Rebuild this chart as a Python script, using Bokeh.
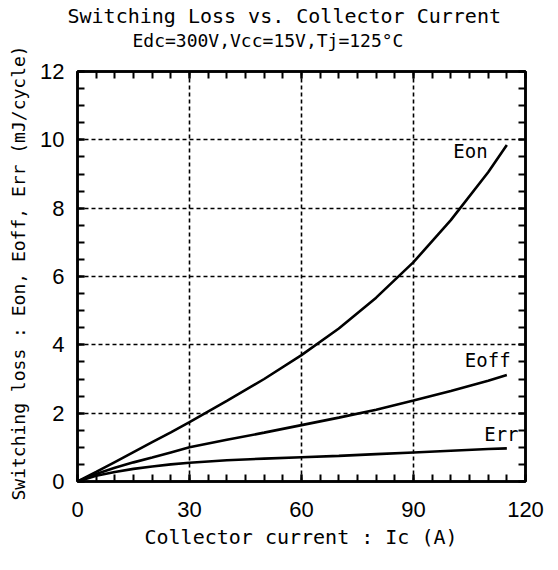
from bokeh.plotting import figure
from bokeh.models import (Range1d, LinearAxis, SingleIntervalTicker, Title,
                          CustomJSTickFormatter, ColumnDataSource)
from bokeh.embed import file_html
from bokeh.resources import INLINE
from bokeh.core.properties import value

# ---- data ----
current = [0, 5, 10, 15, 20, 25, 30, 40, 50, 60, 70, 80, 90, 100, 110, 115]
eon = [0, 0.28, 0.57, 0.86, 1.15, 1.44, 1.74, 2.36, 3.0, 3.7, 4.48, 5.38, 6.42, 7.65, 9.05, 9.85]
eoff = [0, 0.22, 0.40, 0.56, 0.70, 0.85, 1.0, 1.22, 1.43, 1.65, 1.87, 2.10, 2.37, 2.65, 2.95, 3.12]
err = [0, 0.17, 0.28, 0.37, 0.44, 0.50, 0.55, 0.62, 0.67, 0.71, 0.75, 0.80, 0.85, 0.90, 0.95, 0.97]
series_names = ["Eon", "Eoff", "Err"]
x_tick_step = 30
y_tick_step = 2

title1 = "Switching Loss vs. Collector Current"
title2 = "Edc=300V,Vcc=15V,Tj=125°C"
x_title = "Collector current : Ic  (A)"
y_title = "Switching loss : Eon, Eoff, Err  (mJ/cycle)"

# ---- layout ----
W, H = 550, 562
BL, BR, BT, BB = 75, 25, 71, 81
FW, FH = W - BL - BR, H - BT - BB
XMAX, YMAX = 120, 12

def dx(px):
    return (px - BL) / FW * XMAX

def dy(py):
    return (H - BB - py) / FH * YMAX

MONO = "DejaVu Sans Mono"
TICKFONT = "Liberation Sans"

p = figure(width=W, height=H, x_range=Range1d(0, XMAX), y_range=Range1d(0, YMAX),
           output_backend="svg", toolbar_location=None, title=None,
           min_border_left=BL, min_border_right=BR, min_border_top=BT, min_border_bottom=BB)
p.background_fill_color = "white"
p.border_fill_color = "white"
p.outline_line_color = "black"
p.outline_line_width = 2.5

bottom_axis = p.below[0]
left_axis = p.left[0]

xt = SingleIntervalTicker(interval=x_tick_step, num_minor_ticks=6)
yt = SingleIntervalTicker(interval=y_tick_step, num_minor_ticks=4)
bottom_axis.ticker = xt
left_axis.ticker = yt

top_axis = LinearAxis(ticker=SingleIntervalTicker(interval=x_tick_step, num_minor_ticks=6),
                      formatter=CustomJSTickFormatter(code="return ''"))
right_axis = LinearAxis(ticker=SingleIntervalTicker(interval=y_tick_step, num_minor_ticks=4),
                        formatter=CustomJSTickFormatter(code="return ''"))
p.add_layout(top_axis, "above")
p.add_layout(right_axis, "right")

for ax in [bottom_axis, left_axis, top_axis, right_axis]:
    ax.axis_line_color = "black"
    ax.axis_line_width = 2.5
    ax.major_tick_in = 7
    ax.major_tick_out = 0
    ax.minor_tick_in = 7
    ax.minor_tick_out = 0
    ax.major_tick_line_width = 2
    ax.minor_tick_line_width = 2
    ax.major_tick_line_color = "black"
    ax.minor_tick_line_color = "black"
    ax.major_label_text_font = TICKFONT
    ax.major_label_text_font_size = "22px"
    ax.major_label_text_color = "black"

bottom_axis.major_label_standoff = 20
left_axis.major_label_standoff = 13
top_axis.major_label_standoff = 0
right_axis.major_label_standoff = 0
top_axis.major_label_text_font_size = "1px"
right_axis.major_label_text_font_size = "1px"

for g in [p.xgrid[0], p.ygrid[0]]:
    g.grid_line_color = "black"
    g.grid_line_dash = "4 3"
    g.grid_line_width = 1.6
p.xgrid[0].ticker = xt
p.ygrid[0].ticker = yt

src = ColumnDataSource(dict(x=current, eon=eon, eoff=eoff, err=err))
for col in ["eon", "eoff", "err"]:
    p.line("x", col, source=src, line_color="black", line_width=2.6)

# curve labels
lab_src = ColumnDataSource(dict(x=[dx(487), dx(510), dx(518)],
                                y=[dy(150.5), dy(359), dy(433.5)],
                                t=series_names))
p.text("x", "y", text="t", source=lab_src, text_align="right", text_baseline="middle",
       text_font=value(MONO), text_font_size="19px", text_color="black")

# titles
def make_title(txt, size, offset, standoff, valign="bottom"):
    return Title(text=txt, align="left", offset=offset, standoff=standoff,
                 vertical_align=valign,
                 text_font=MONO, text_font_size=size, text_font_style="normal",
                 text_color="black")

p.add_layout(make_title(title2, "18px", 55, 42), "above")
p.add_layout(make_title(title1, "20px", -10, -43), "above")
p.add_layout(make_title(x_title, "20px", 67, 7.4), "below")
p.add_layout(make_title(y_title, "18px", -19, 14, valign="top"), "left")

open("out.html", "w").write(file_html(p, INLINE))
